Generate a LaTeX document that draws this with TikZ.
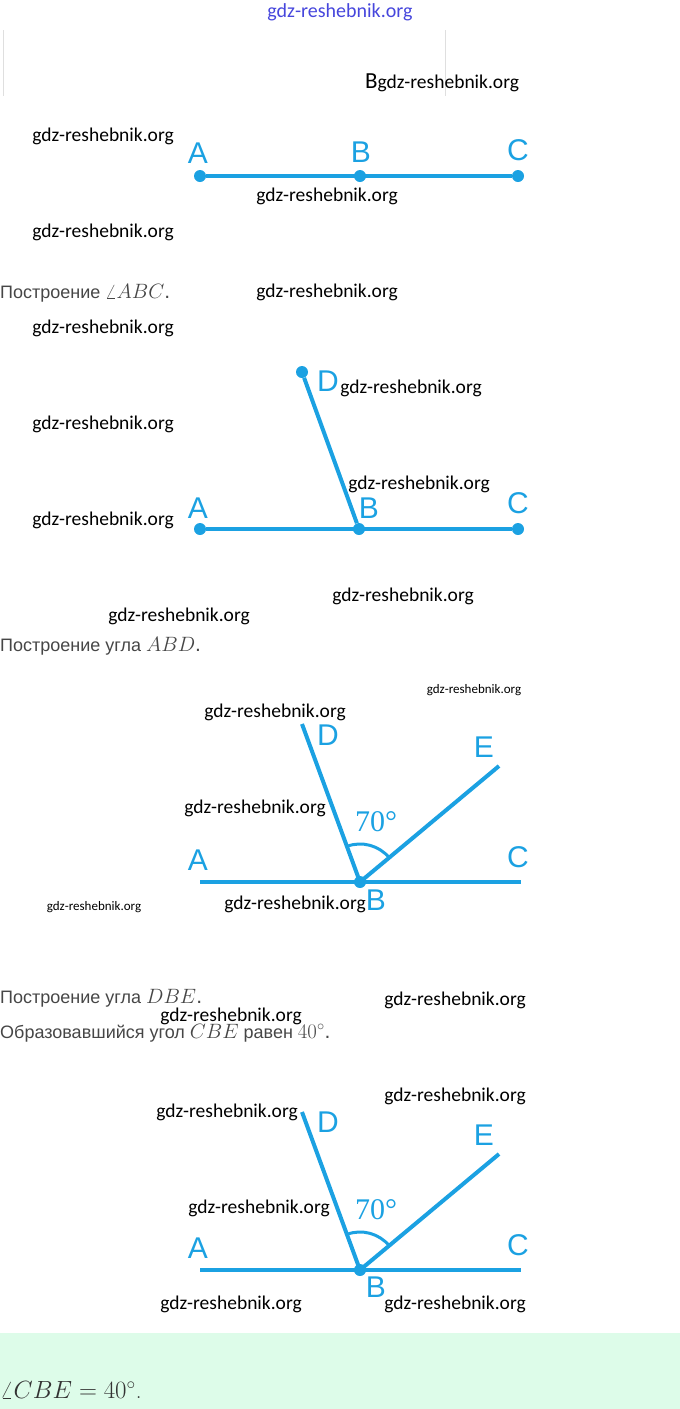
\documentclass[tikz,border=0pt]{standalone}
\usepackage{fontspec}
\usepackage{tikz}
\newfontfamily\wmfont{Carlito}
\newfontfamily\ptfont{Liberation Sans}
\newfontfamily\degfont{Liberation Serif}
\definecolor{linecol}{RGB}{27,161,226}
\definecolor{txtgray}{RGB}{70,70,70}
\definecolor{boxgreen}{RGB}{221,252,233}
\definecolor{topblue}{RGB}{70,70,220}
\newcommand\mathbig{\fontsize{21}{24}\selectfont}

\begin{document}
\begin{tikzpicture}[x=1pt,y=1pt]
    \tikzset{
        dot/.style={circle,fill=linecol,inner sep=0pt,minimum size=12pt},
        seg/.style={draw=linecol,line width=4pt},
        arcline/.style={draw=linecol,line width=3pt},
        lab/.style={text=linecol,inner sep=0pt,font=\ptfont\fontsize{30}{30}\selectfont},
        deglab/.style={text=linecol,inner sep=0pt,font=\degfont\fontsize{30}{30}\selectfont},
        wm/.style={inner sep=0pt,font=\wmfont\fontsize{19.5}{20}\selectfont},
        wmsmall/.style={inner sep=0pt,font=\wmfont\fontsize{13}{14}\selectfont},
        caption/.style={anchor=west,inner sep=0pt,text=txtgray,font=\ptfont\fontsize{18}{20}\selectfont}
    }
    \useasboundingbox (0,0) rectangle (680,-1409);

    % header
    \node[inner sep=0pt,text=topblue,font=\wmfont\fontsize{20}{20}\selectfont] (top) at (340,-12) {gdz-reshebnik.org};
    \draw[gray!25,line width=1pt] (3,-30) -- (3,-96);
    \draw[gray!25,line width=1pt] (445,-30) -- (445,-96);
    \node[wm] (wmb) at (442,-83) {{\fontsize{23}{23}\selectfont B}gdz-reshebnik.org};

    % segment ABC
    \node[dot] (A1) at (200,-176) {};
    \node[dot] (B1) at (360,-176) {};
    \node[dot] (C1) at (518,-176) {};
    \draw[seg] (A1) -- (C1);
    \node[lab] (la1) at (198,-153) {A};
    \node[lab] (lb1) at (361,-152) {B};
    \node[lab] (lc1) at (518,-150) {C};
    \node[caption] (cap1) at (0,-293) {Построение {\mathbig$\angle ABC$.}};

    % angle ABD
    \node[dot] (A2) at (200,-529) {};
    \node[dot] (B2) at (359,-529) {};
    \node[dot] (C2) at (518,-529) {};
    \node[dot] (D2) at (302,-372) {};
    \draw[seg] (A2) -- (C2);
    \draw[seg] (D2) -- (B2);
    \node[lab] (la2) at (198,-508) {A};
    \node[lab] (lb2) at (369,-508) {B};
    \node[lab] (lc2) at (518,-503) {C};
    \node[lab] (ld2) at (328,-381) {D};
    \node[caption] (cap2) at (0,-646) {Построение угла {\mathbig$ABD$.}};

    % angle DBE
    \coordinate (A3) at (200,-882);
    \coordinate (C3) at (521,-882);
    \coordinate (D3) at (302,-724);
    \coordinate (E3) at (499,-766);
    \node[dot] (B3) at (360,-882) {};
    \draw[seg] (A3) -- (C3);
    \draw[seg] (D3) -- (B3.center);
    \draw[seg] (B3.center) -- (E3);
    \draw[arcline] (B3.center) ++(110:38) arc[start angle=110,end angle=40,radius=38pt];
    \node[deglab] (deg3) at (376,-822) {70°};
    \node[lab] (la3) at (198,-860) {A};
    \node[lab] (lb3) at (376,-900) {B};
    \node[lab] (lc3) at (518,-857) {C};
    \node[lab] (ld3) at (328,-735) {D};
    \node[lab] (le3) at (484,-747) {E};
    \node[caption] (cap3) at (0,-998) {Построение угла {\mathbig$DBE$.}};
    \node[caption] (cap4) at (0,-1033) {Образовавшийся угол {\mathbig$CBE$} равен {\mathbig$40^\circ$.}};

    % result
    \coordinate (A4) at (200,-1270);
    \coordinate (C4) at (521,-1270);
    \coordinate (D4) at (302,-1112);
    \coordinate (E4) at (499,-1154);
    \node[dot] (B4) at (360,-1270) {};
    \draw[seg] (A4) -- (C4);
    \draw[seg] (D4) -- (B4.center);
    \draw[seg] (B4.center) -- (E4);
    \draw[arcline] (B4.center) ++(110:38) arc[start angle=110,end angle=40,radius=38pt];
    \node[deglab] (deg4) at (376,-1210) {70°};
    \node[lab] (la4) at (198,-1248) {A};
    \node[lab] (lb4) at (376,-1287) {B};
    \node[lab] (lc4) at (518,-1245) {C};
    \node[lab] (ld4) at (328,-1122) {D};
    \node[lab] (le4) at (484,-1135) {E};

    \fill[boxgreen] (0,-1333) rectangle (680,-1409);
    \node[anchor=west,inner sep=0pt,text=black!80,font=\fontsize{23}{26}\selectfont] (ans) at (0,-1390) {$\angle CBE = 40^\circ$.};

    % watermarks
    \foreach \x/\y in {103/136,327/196,103/232,327/292,103/328,411/388,103/424,
                       419/484,103/520,403/596,179/616,275/712,255/808,295/904,
                       455/1000,231/1016,455/1096,227/1112,259/1208,231/1304,455/1304}
        \node[wm] at (\x,-\y) {gdz-reshebnik.org};
    \node[wmsmall] (wms1) at (474,-690) {gdz-reshebnik.org};
    \node[wmsmall] (wms2) at (94,-907) {gdz-reshebnik.org};
\end{tikzpicture}
\end{document}
